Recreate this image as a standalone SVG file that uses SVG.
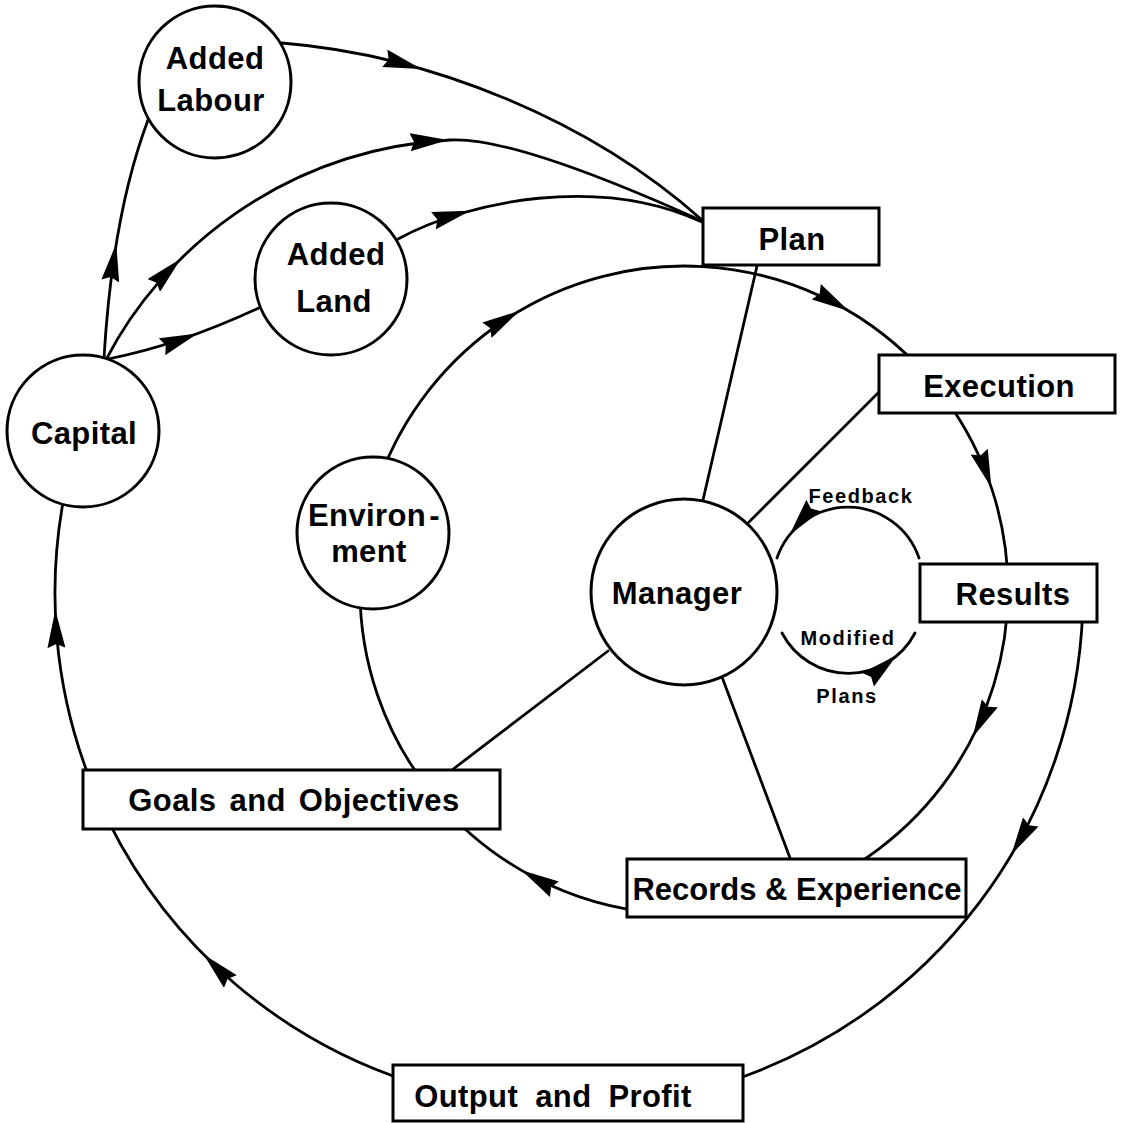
<svg xmlns="http://www.w3.org/2000/svg" width="1124" height="1123" viewBox="0 0 1124 1123">
<style>
.bg{fill:#ffffff}
.ln{fill:none;stroke:#000;stroke-width:2.8;stroke-linecap:round}
.stub{fill:none;stroke:none;marker-end:url(#ah)}
.nd{fill:#fff;stroke:#000;stroke-width:3}
.t{font-family:"Liberation Sans",Arial,Helvetica,sans-serif;font-weight:bold;font-size:31px;letter-spacing:0.4px;fill:#000;text-anchor:middle}
.s{font-family:"Liberation Sans",Arial,Helvetica,sans-serif;font-weight:bold;font-size:20px;letter-spacing:1.6px;fill:#000;text-anchor:middle}
</style>
<defs>
<marker id="ah" markerUnits="userSpaceOnUse" viewBox="0 0 38 18" markerWidth="38" markerHeight="18" refX="38" refY="9" orient="auto">
<path d="M0,0 L38,9 L0,18 L4,9 Z" fill="#000"/>
</marker>
</defs>
<rect class="bg" x="0" y="0" width="1124" height="1123"/>
<g id="connectors">
<!-- inputs to Plan -->
<path class="ln" d="M104,358 C108,290 118,200 148,120"/>
<path class="stub" d="M114.7,253.4 L116.3,243.5"/>
<path class="ln" d="M107,358 C160,255 280,150 450,140 C500,137 600,175 702,221"/>
<path class="stub" d="M173.7,265.8 L180.8,258.8"/>
<path class="stub" d="M438,140.6 L448,140"/>
<path class="ln" d="M108,359 Q180,345 261,307"/>
<path class="stub" d="M188.3,337 L197.7,333.5"/>
<path class="ln" d="M282,43 C430,55 590,120 702,220"/>
<path class="stub" d="M411.7,66.1 L421.3,68.9"/>
<path class="ln" d="M398,239 C470,200 600,175 702,222"/>
<path class="stub" d="M460.5,213.4 L470.2,210.8"/>
<!-- inner cycle -->
<path class="ln" d="M379.5,479.2 A324,324 0 0 1 703.2,266.6"/>
<path class="stub" d="M511,315.9 L519.6,310.8"/>
<path class="ln" d="M703.2,266.6 A324,324 0 0 1 917.1,364.9"/>
<path class="stub" d="M840.3,306 L848.9,311.1"/>
<path class="ln" d="M946.1,399.6 A324,324 0 0 1 1008,590"/>
<path class="stub" d="M988.2,478.2 L991.4,487.7"/>
<path class="ln" d="M1008,590 A324,324 0 0 1 794.8,894.5"/>
<path class="stub" d="M977.2,728.2 L972.7,737.1"/>
<path class="ln" d="M655.8,912.8 A324,324 0 0 1 435.8,798.3"/>
<path class="stub" d="M530.2,875.3 L521.5,870.3"/>
<path class="ln" d="M435.8,798.3 A324,324 0 0 1 360.2,578.7"/>
<!-- outer cycle -->
<path class="ln" d="M1082.7,610.9 A514,514 0 0 1 727.8,1081.9"/>
<path class="stub" d="M1016.5,846 L1011.4,854.6"/>
<path class="ln" d="M410.2,1081.9 A514,514 0 0 1 109,822.4"/>
<path class="stub" d="M210.7,961.6 L203.7,954.5"/>
<path class="ln" d="M89.1,777.2 A514,514 0 0 1 64.4,494.9"/>
<path class="stub" d="M55.6,620 L55.3,610"/>
<!-- manager spokes -->
<path class="ln" d="M757,266 L703,500"/>
<path class="ln" d="M879,392 L748,523"/>
<path class="ln" d="M608,651 L452,770"/>
<path class="ln" d="M722,677 L790,858"/>
<!-- feedback loop -->
<path class="ln" d="M919,558 A75,75 0 0 0 777,558"/>
<path class="stub" d="M795.8,527.2 L789.5,535"/>
<path class="ln" d="M782,633 A75,75 0 0 0 915,633"/>
<path class="stub" d="M889.4,661.5 L897,655"/>
</g>
<g id="node-labour"><circle class="nd" cx="215" cy="82" r="76"/><text class="t" x="215" y="69">Added</text><text class="t" x="211" y="111">Labour</text></g>
<g id="node-land"><circle class="nd" cx="331" cy="279" r="76"/><text class="t" x="336" y="265">Added</text><text class="t" x="334" y="312">Land</text></g>
<g id="node-capital"><circle class="nd" cx="83" cy="431" r="76"/><text class="t" x="84" y="444">Capital</text></g>
<g id="node-environment"><circle class="nd" cx="373" cy="533" r="76"/><text class="t" x="308" y="526" style="text-anchor:start">Environ<tspan dx="3">-</tspan></text><text class="t" x="369" y="562">ment</text></g>
<g id="node-manager"><circle class="nd" cx="684" cy="592" r="93"/><text class="t" x="677" y="604">Manager</text></g>
<g id="node-plan"><rect class="nd" x="703" y="208" width="176" height="57"/><text class="t" x="792" y="250">Plan</text></g>
<g id="node-execution"><rect class="nd" x="879" y="355" width="236" height="58"/><text class="t" x="999" y="397">Execution</text></g>
<g id="node-results"><rect class="nd" x="920" y="564" width="177" height="58"/><text class="t" x="1013" y="605">Results</text></g>
<g id="node-records"><rect class="nd" x="627" y="859" width="339" height="58"/><text class="t" x="797" y="900" style="letter-spacing:0">Records &amp; Experience</text></g>
<g id="node-goals"><rect class="nd" x="83" y="770" width="417" height="59"/><text class="t" x="294" y="811" word-spacing="4">Goals and Objectives</text></g>
<g id="node-output"><rect class="nd" x="393" y="1065" width="350" height="56"/><text class="t" x="553" y="1107" word-spacing="8">Output and Profit</text></g>
<g id="labels">
<text class="s" x="861" y="503">Feedback</text>
<text class="s" x="848" y="645">Modified</text>
<text class="s" x="847" y="703">Plans</text>
</g>
</svg>
